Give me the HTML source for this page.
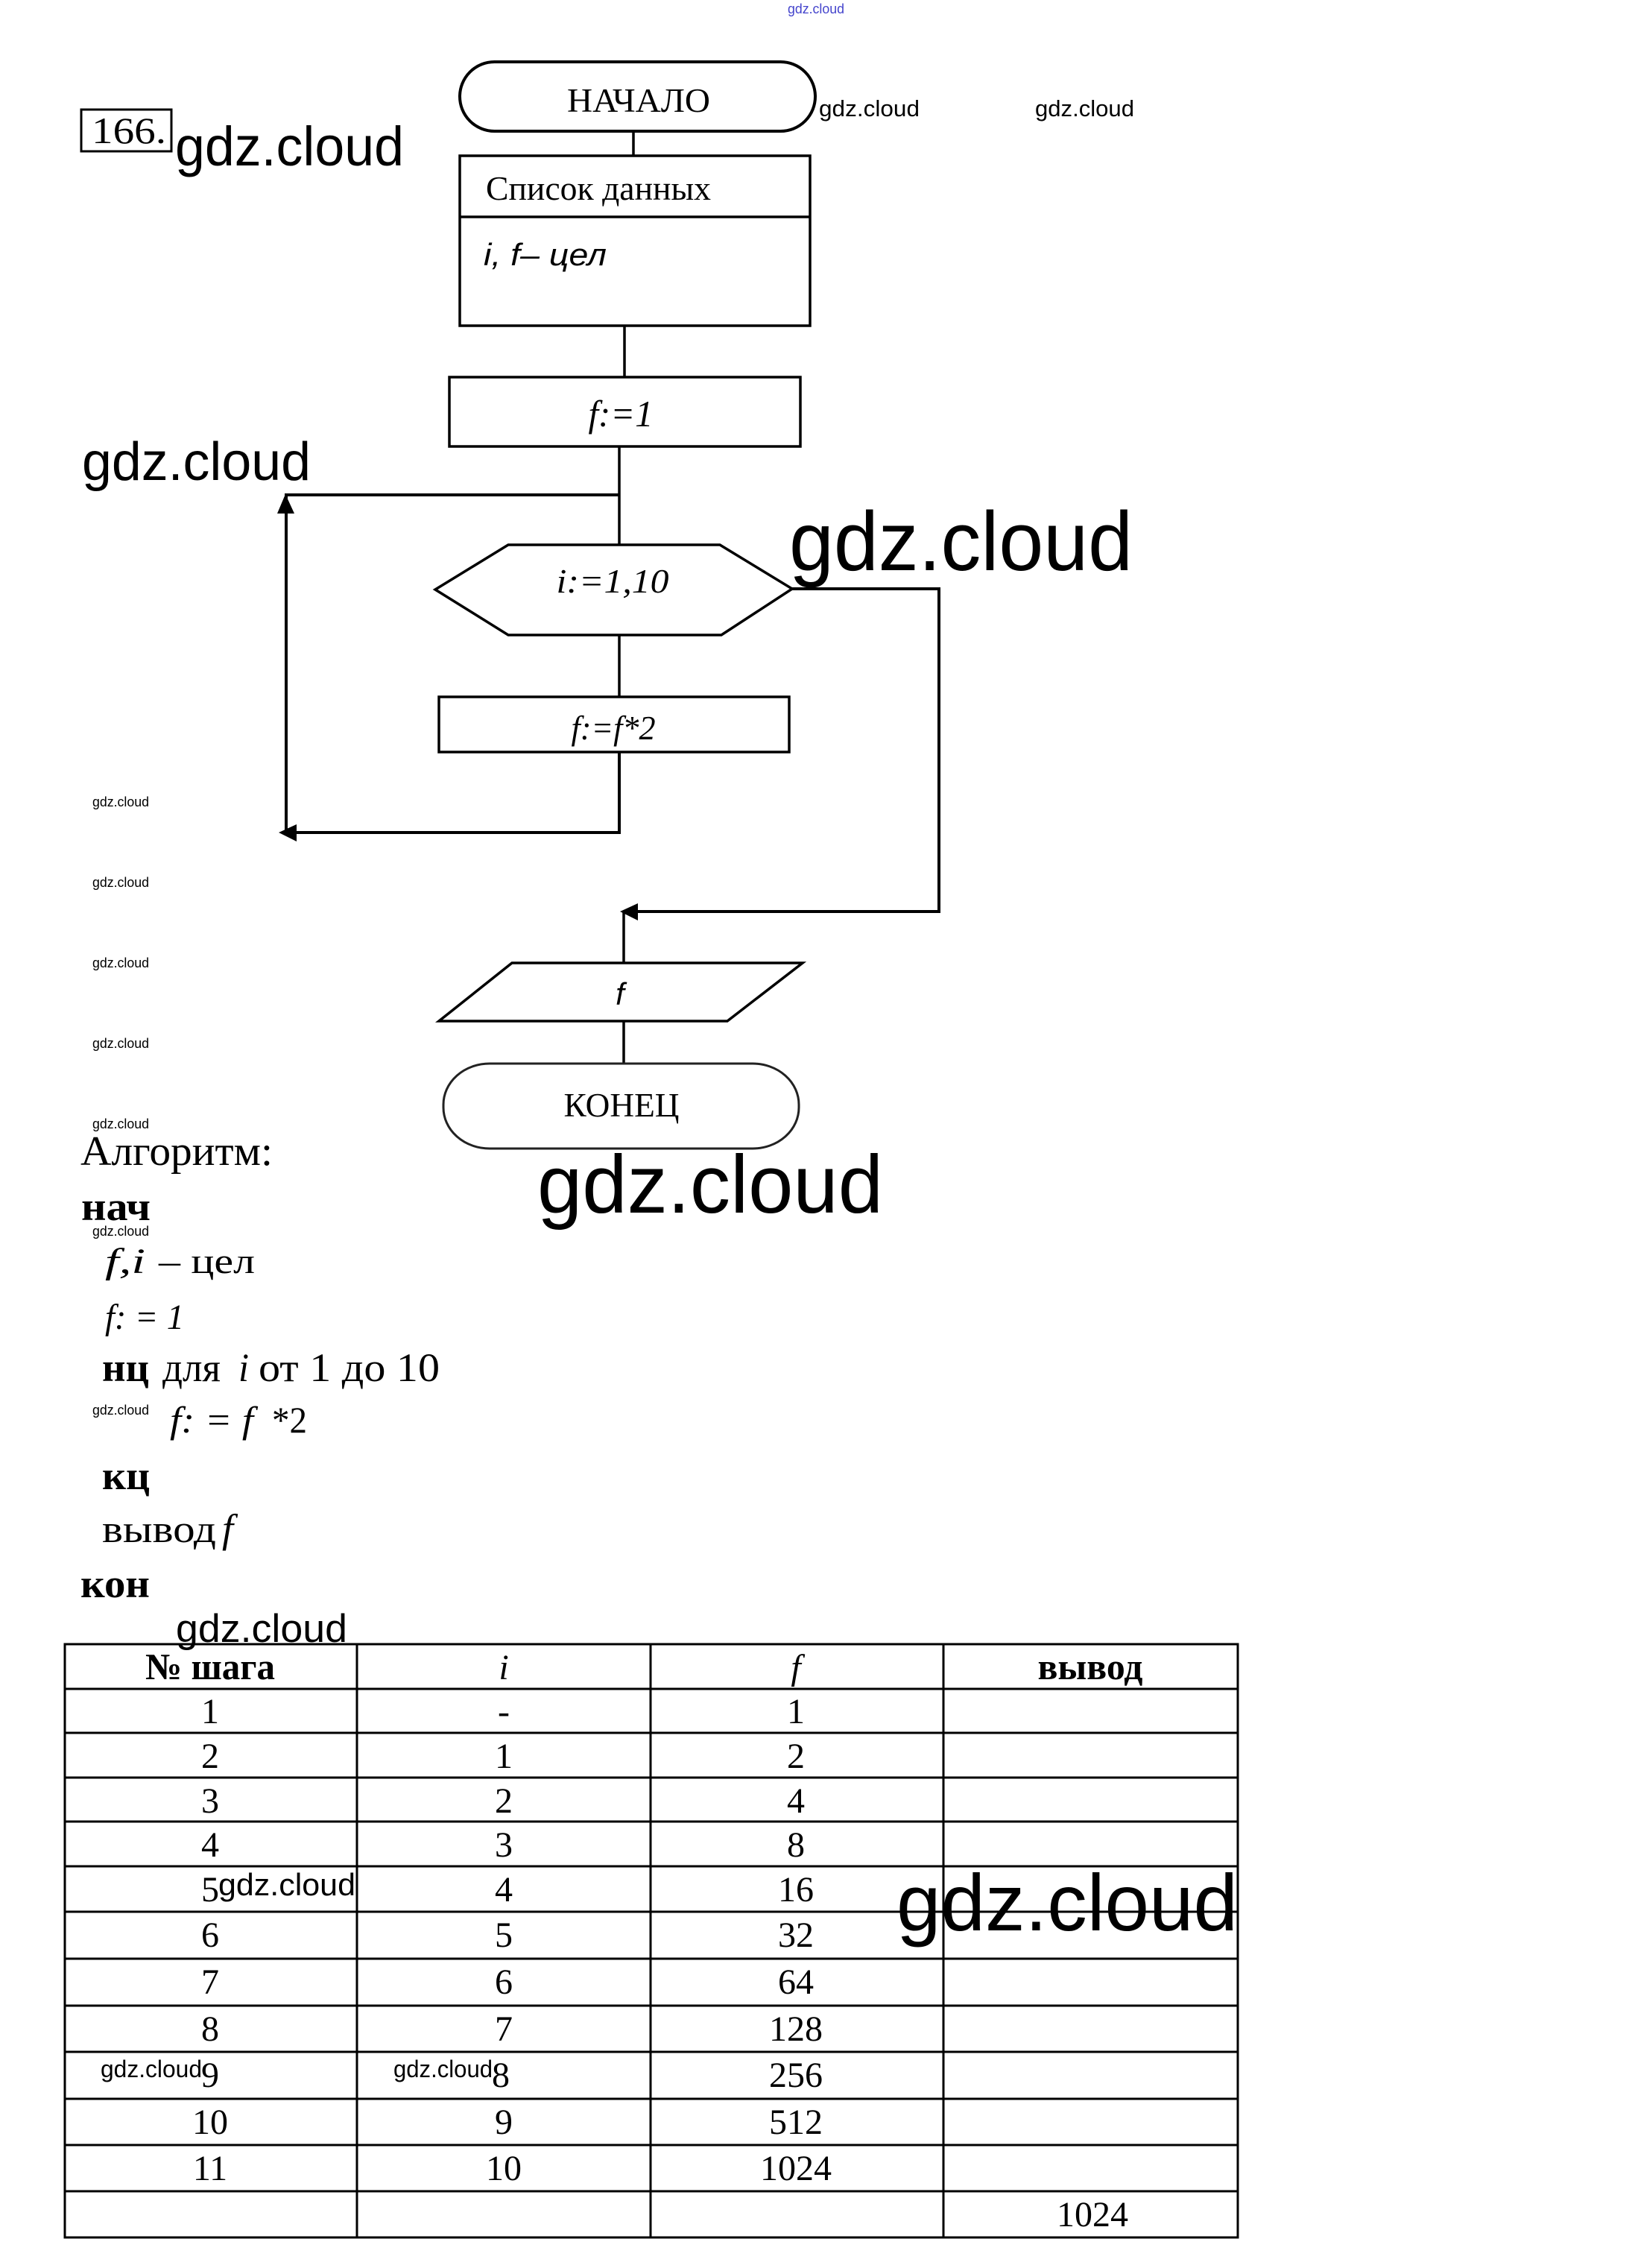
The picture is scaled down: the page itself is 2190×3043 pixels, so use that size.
<!DOCTYPE html>
<html>
<head>
<meta charset="utf-8">
<style>
html,body{margin:0;padding:0;background:#fff;}
svg{display:block;}
.s{font-family:"Liberation Serif","DejaVu Serif",serif;}
.a{font-family:"Liberation Sans","DejaVu Sans",sans-serif;}
</style>
</head>
<body>
<svg width="2190" height="3043" viewBox="0 0 2190 3043" xmlns="http://www.w3.org/2000/svg">
<rect x="0" y="0" width="2190" height="3043" fill="#fff"/>

<!-- top tiny watermark -->
<text class="a" x="1057" y="18" font-size="18" fill="#4444cc" textLength="76" lengthAdjust="spacingAndGlyphs">gdz.cloud</text>

<!-- 166 box -->
<rect x="109" y="147" width="121" height="56" fill="none" stroke="#000" stroke-width="3"/>
<text class="s" x="123" y="192" font-size="50" textLength="100" lengthAdjust="spacingAndGlyphs">166.</text>

<!-- watermarks -->
<g class="a" fill="#000">
<text x="235" y="222" font-size="74" textLength="307" lengthAdjust="spacingAndGlyphs">gdz.cloud</text>
<text x="1099" y="156" font-size="31" textLength="135" lengthAdjust="spacingAndGlyphs">gdz.cloud</text>
<text x="1389" y="156" font-size="31" textLength="133" lengthAdjust="spacingAndGlyphs">gdz.cloud</text>
<text x="110" y="644" font-size="72" textLength="307" lengthAdjust="spacingAndGlyphs">gdz.cloud</text>
<text x="1059" y="765" font-size="112" textLength="461" lengthAdjust="spacingAndGlyphs">gdz.cloud</text>
<text x="721" y="1627" font-size="110" textLength="464" lengthAdjust="spacingAndGlyphs">gdz.cloud</text>
<text x="236" y="2203" font-size="53" textLength="230" lengthAdjust="spacingAndGlyphs">gdz.cloud</text>
<text x="1203" y="2590" font-size="108" textLength="458" lengthAdjust="spacingAndGlyphs">gdz.cloud</text>
<text x="124" y="1082" font-size="18" textLength="76" lengthAdjust="spacingAndGlyphs">gdz.cloud</text>
<text x="124" y="1190" font-size="18" textLength="76" lengthAdjust="spacingAndGlyphs">gdz.cloud</text>
<text x="124" y="1298" font-size="18" textLength="76" lengthAdjust="spacingAndGlyphs">gdz.cloud</text>
<text x="124" y="1406" font-size="18" textLength="76" lengthAdjust="spacingAndGlyphs">gdz.cloud</text>
<text x="124" y="1514" font-size="18" textLength="76" lengthAdjust="spacingAndGlyphs">gdz.cloud</text>
<text x="124" y="1658" font-size="18" textLength="76" lengthAdjust="spacingAndGlyphs">gdz.cloud</text>
<text x="124" y="1898" font-size="18" textLength="76" lengthAdjust="spacingAndGlyphs">gdz.cloud</text>
<text x="293" y="2543" font-size="42" textLength="184" lengthAdjust="spacingAndGlyphs">gdz.cloud</text>
<text x="135" y="2787" font-size="32" textLength="136" lengthAdjust="spacingAndGlyphs">gdz.cloud</text>
<text x="528" y="2787" font-size="32" textLength="133" lengthAdjust="spacingAndGlyphs">gdz.cloud</text>
</g>

<!-- Flowchart -->
<g fill="none" stroke="#000">
  <rect x="617" y="83" width="477" height="93" rx="46.5" ry="46.5" stroke-width="4"/>
  <line x1="850" y1="176" x2="850" y2="209" stroke-width="3.5"/>
  <rect x="617" y="209" width="470" height="228" stroke-width="3.5"/>
  <line x1="617" y1="291" x2="1087" y2="291" stroke-width="3.5"/>
  <line x1="838" y1="437" x2="838" y2="506" stroke-width="3.5"/>
  <rect x="603" y="506" width="471" height="93" stroke-width="3.5"/>
  <line x1="831" y1="599" x2="831" y2="731" stroke-width="3.5"/>
  <!-- loop back -->
  <polyline points="831,664 384,664 384,686" stroke-width="4"/>
  <line x1="384" y1="686" x2="384" y2="1117" stroke-width="4"/>
  <polyline points="831,1009 831,1117 396,1117" stroke-width="4"/>
  <polygon points="682,731 966,731 1063,790 968,852 682,852 584,791" stroke-width="3.5"/>
  <line x1="831" y1="852" x2="831" y2="935" stroke-width="3.5"/>
  <rect x="589" y="935" width="470" height="74" stroke-width="3.5"/>
  <!-- exit -->
  <polyline points="1063,790 1260,790 1260,1223 854,1223" stroke-width="4"/>
  <line x1="837" y1="1223" x2="837" y2="1292" stroke-width="3.5"/>
  <polygon points="687,1292 1077,1292 976,1370 589,1370" stroke-width="3.5"/>
  <line x1="837" y1="1370" x2="837" y2="1427" stroke-width="3.5"/>
  <rect x="595" y="1427" width="477" height="114" rx="62" ry="55" stroke="#222" stroke-width="3"/>
</g>
<g fill="#000" stroke="none">
  <polygon points="383,663 372,689 395,689"/>
  <polygon points="374,1117 398,1106 398,1129"/>
  <polygon points="832,1223 856,1212 856,1235"/>
</g>

<!-- flowchart texts -->
<text class="s" x="857" y="150" font-size="45" text-anchor="middle" textLength="192" lengthAdjust="spacingAndGlyphs">НАЧАЛО</text>
<text class="s" x="652" y="268" font-size="45" textLength="302" lengthAdjust="spacingAndGlyphs">Список данных</text>
<text class="a" x="649" y="356" font-size="42" font-style="italic" textLength="165" lengthAdjust="spacingAndGlyphs">i, f– цел</text>
<text class="s" x="833" y="572" font-size="50" font-style="italic" text-anchor="middle" textLength="87" lengthAdjust="spacingAndGlyphs">f:=1</text>
<text class="s" x="822" y="795" font-size="46" font-style="italic" text-anchor="middle" textLength="151" lengthAdjust="spacingAndGlyphs">i:=1,10</text>
<text class="s" x="823" y="992" font-size="46" font-style="italic" text-anchor="middle" textLength="113" lengthAdjust="spacingAndGlyphs">f:=f*2</text>
<text class="a" x="832" y="1348" font-size="42" font-style="italic" text-anchor="middle">f</text>
<text class="s" x="834" y="1498" font-size="45" text-anchor="middle" textLength="155" lengthAdjust="spacingAndGlyphs">КОНЕЦ</text>

<!-- Algorithm -->
<g class="s" fill="#000">
<text x="108" y="1563" font-size="56" textLength="258" lengthAdjust="spacingAndGlyphs">Алгоритм:</text>
<text x="109" y="1637" font-size="54" font-weight="bold" textLength="93" lengthAdjust="spacingAndGlyphs">нач</text>
<text x="141" y="1708" font-size="48" font-style="italic" textLength="54" lengthAdjust="spacingAndGlyphs">f,i</text>
<text x="213" y="1708" font-size="48" textLength="129" lengthAdjust="spacingAndGlyphs">– цел</text>
<text x="141" y="1783" font-size="48" font-style="italic" textLength="106" lengthAdjust="spacingAndGlyphs">f: = 1</text>
<text x="137" y="1853" font-size="54" font-weight="bold" textLength="63" lengthAdjust="spacingAndGlyphs">нц</text>
<text x="218" y="1853" font-size="54" textLength="78" lengthAdjust="spacingAndGlyphs">для</text>
<text x="320" y="1853" font-size="54" font-style="italic" textLength="14" lengthAdjust="spacingAndGlyphs">i</text>
<text x="347" y="1853" font-size="54" textLength="243" lengthAdjust="spacingAndGlyphs">от 1 до 10</text>
<text x="228" y="1922" font-size="50" font-style="italic" textLength="112" lengthAdjust="spacingAndGlyphs">f: = f</text>
<text x="365" y="1922" font-size="50" textLength="47" lengthAdjust="spacingAndGlyphs">*2</text>
<text x="137" y="1998" font-size="54" font-weight="bold" textLength="64" lengthAdjust="spacingAndGlyphs">кц</text>
<text x="137" y="2069" font-size="52" textLength="153" lengthAdjust="spacingAndGlyphs">вывод</text>
<text x="298" y="2069" font-size="54" font-style="italic">f</text>
<text x="108" y="2143" font-size="54" font-weight="bold" textLength="93" lengthAdjust="spacingAndGlyphs">кон</text>
</g>

<!-- Table -->
<g stroke="#000" stroke-width="3" fill="none">
  <rect x="87" y="2206" width="1574" height="796"/>
  <line x1="479" y1="2206" x2="479" y2="3002"/>
  <line x1="873" y1="2206" x2="873" y2="3002"/>
  <line x1="1266" y1="2206" x2="1266" y2="3002"/>
  <line x1="87" y1="2266" x2="1661" y2="2266"/>
  <line x1="87" y1="2325" x2="1661" y2="2325"/>
  <line x1="87" y1="2385" x2="1661" y2="2385"/>
  <line x1="87" y1="2444" x2="1661" y2="2444"/>
  <line x1="87" y1="2504" x2="1661" y2="2504"/>
  <line x1="87" y1="2565" x2="1661" y2="2565"/>
  <line x1="87" y1="2628" x2="1661" y2="2628"/>
  <line x1="87" y1="2691" x2="1661" y2="2691"/>
  <line x1="87" y1="2753" x2="1661" y2="2753"/>
  <line x1="87" y1="2816" x2="1661" y2="2816"/>
  <line x1="87" y1="2878" x2="1661" y2="2878"/>
  <line x1="87" y1="2940" x2="1661" y2="2940"/>
</g>
<g class="s" fill="#000" font-size="48" text-anchor="middle">
  <text x="282" y="2253" font-size="50" font-weight="bold" textLength="174" lengthAdjust="spacingAndGlyphs">№ шага</text>
  <text x="676" y="2253" font-style="italic">i</text>
  <text x="1068" y="2253" font-style="italic">f</text>
  <text x="1463" y="2253" font-size="50" font-weight="bold" textLength="141" lengthAdjust="spacingAndGlyphs">вывод</text>

  <text x="282" y="2312">1</text><text x="676" y="2312">-</text><text x="1068" y="2312">1</text>
  <text x="282" y="2372">2</text><text x="676" y="2372">1</text><text x="1068" y="2372">2</text>
  <text x="282" y="2432">3</text><text x="676" y="2432">2</text><text x="1068" y="2432">4</text>
  <text x="282" y="2491">4</text><text x="676" y="2491">3</text><text x="1068" y="2491">8</text>
  <text x="282" y="2551">5</text><text x="676" y="2551">4</text><text x="1068" y="2551">16</text>
  <text x="282" y="2612">6</text><text x="676" y="2612">5</text><text x="1068" y="2612">32</text>
  <text x="282" y="2675">7</text><text x="676" y="2675">6</text><text x="1068" y="2675">64</text>
  <text x="282" y="2738">8</text><text x="676" y="2738">7</text><text x="1068" y="2738">128</text>
  <text x="282" y="2800">9</text><text x="672" y="2800">8</text><text x="1068" y="2800">256</text>
  <text x="282" y="2863">10</text><text x="676" y="2863">9</text><text x="1068" y="2863">512</text>
  <text x="282" y="2925">11</text><text x="676" y="2925">10</text><text x="1068" y="2925">1024</text>
  <text x="1466" y="2987">1024</text>
</g>
</svg>
</body>
</html>
